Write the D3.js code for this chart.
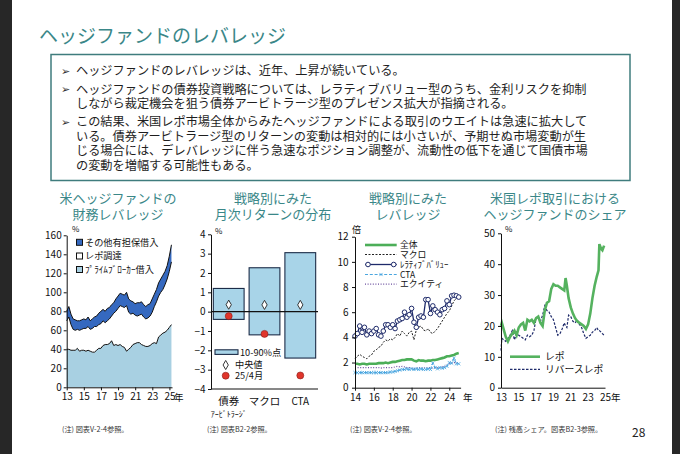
<!DOCTYPE html>
<html>
<head>
<meta charset="utf-8">
<script src="https://cdn.jsdelivr.net/npm/d3@7"></script>
<style>
body{margin:0;background:#fff;}
svg{display:block;}
text{font-family:"Noto Sans CJK JP","Noto Sans",sans-serif;}
</style>
</head>
<body>
<svg id="slide" width="680" height="454"></svg>
<script>
// ---- slide text ----
var slideTitle = "ヘッジファンドのレバレッジ";
var bulletLines = [
  ["ヘッジファンドのレバレッジは、近年、上昇が続いている。"],
  ["ヘッジファンドの債券投資戦略については、レラティブバリュー型のうち、金利リスクを抑制",
   "しながら裁定機会を狙う債券アービトラージ型のプレゼンス拡大が指摘される。"],
  ["この結果、米国レポ市場全体からみたヘッジファンドによる取引のウエイトは急速に拡大して",
   "いる。債券アービトラージ型のリターンの変動は相対的には小さいが、予期せぬ市場変動が生",
   "じる場合には、デレバレッジに伴う急速なポジション調整が、流動性の低下を通じて国債市場",
   "の変動を増幅する可能性もある。"]
];
var chartTitles = [
  ["米ヘッジファンドの", "財務レバレッジ"],
  ["戦略別にみた", "月次リターンの分布"],
  ["戦略別にみた", "レバレッジ"],
  ["米国レポ取引における", "ヘッジファンドのシェア"]
];
var footnotes = ["(注) 図表V-2-4参照。", "(注) 図表B2-2参照。", "(注) 図表V-2-4参照。", "(注) 残高シェア。図表B2-3参照。"];

// ---- chart 1: financial leverage (%), quarterly from 2013 ----
var finYears = d3.range(50).map(function(i){ return 2013 + i / 4; });
var primeBroker = [40,40,39,39, 39,41,38,39, 39,38,39,38, 37,37,39,41, 41,44,45,45, 46,49,44,45,
                   44,45,43,42, 38,40,42,45, 46,47,47,45, 44,43,43,44, 46,47,46,53, 55,57,58,60, 63,66];
var repoFunding = [30,34,27,22, 21,20,22,22, 23,24,25,23, 25,27,25,25, 26,26,23,25, 26,26,34,35,
                   39,41,42,42, 48,39,35,33, 30,28,29,32, 30,29,30,31, 33,38,44,43, 45,46,50,54, 59,66];
var otherSecured = [10,11,11,11, 11,9,10,10, 10,9,10,9, 10,10,11,12, 13,12,12,13, 12,12,11,13,
                    13,13,13,13, 14,14,14,12, 12,14,13,13, 13,13,14,13, 14,13,13,14, 14,15,14,14, 16,18];
var finKeys = ["prime", "repo", "other"];
var finLegend = ["その他有担保借入", "レポ調達", "ﾌﾟﾗｲﾑﾌﾞﾛｰｶｰ借入"];
var finYTicks = [0,20,40,60,80,100,120,140,160];
var finXTicks = [2013,2015,2017,2019,2021,2023,2025];

// ---- chart 2: monthly return distribution (%) ----
var strategies = ["債券", "マクロ", "CTA"];
var pct10 = [-0.4, -1.2, -2.4];
var pct90 = [1.2, 2.27, 3.05];
var medians = [0.36, 0.35, 0.35];
var apr25 = [-0.23, -1.15, -3.3];
var retYTicks = [-4,-3,-2,-1,0,1,2,3,4];
var retLegend = ["10-90%点", "中央値", "25/4月"];

// ---- chart 3: leverage by strategy (times), quarterly from 2014 ----
var stratYears = d3.range(45).map(function(i){ return 2014 + i / 4; });
var levOverall = [1.9,1.9,1.85,1.9, 1.9,1.85,1.9,1.9, 1.9,1.9,1.95,1.95, 1.95,2.0,1.95,2.0, 2.05,2.05,2.1,2.15,
                  2.2,2.2,2.25,2.25, 2.25,2.15,2.1,2.2, 2.15,2.15,2.1,2.15, 2.15,2.2,2.2,2.25, 2.3,2.35,2.4,2.5,
                  2.5,2.55,2.6,2.7, 2.75];
var levMacro = [2.3,2.5,2.65,2.5, 2.4,2.3,2.5,2.6, 2.9,3.0,3.2,3.3, 3.6,3.8,3.7,3.9, 3.8,4.0,4.3,4.1,
                4.5,4.3,4.1,4.4, 4.5,3.8,4.6,4.8, 4.9,4.6,4.5,4.7, 4.4,4.3,4.5,4.7, 5.0,5.3,5.6,5.9,
                6.1,6.5,6.9,7.1, 7.3];
var levRelVal = [4.1,4.3,4.9,4.4, 4.8,4.2,4.5,4.3, 4.5,4.7,4.2,4.1, 4.5,5.0,5.0,4.8, 5.0,4.7,5.3,5.4,
                 5.5,6.0,5.6,5.8, 6.3,5.2,4.8,5.6, 5.7,5.6,7.0,7.0, 5.9,6.5,6.2,6.0, 5.8,6.2,6.3,6.9,
                 6.6,7.3,7.35,7.3, 7.2];
var levCTA = [1.2,1.2,1.2,1.2, 1.2,1.2,1.2,1.2, 1.2,1.2,1.2,1.2, 1.2,1.2,1.2,1.25, 1.25,1.3,1.35,1.4,
              1.45,1.45,1.5,1.45, 1.5,1.45,1.5,1.45, 1.5,1.45,1.45,1.5, 1.45,1.95,1.6,1.5, 1.6,1.55,1.6,1.7,
              2.0,1.95,2.35,1.9, 1.9];
var levEquity = [1.6,1.6,1.6,1.6, 1.6,1.6,1.6,1.6, 1.6,1.6,1.6,1.55, 1.6,1.6,1.6,1.6, 1.6,1.65,1.7,1.65,
                 1.7,1.65,1.6,1.6, 1.55,1.5,1.55,1.6, 1.55,1.6,1.55,1.6, 1.6,1.55,1.6,1.6, 1.6,1.65,1.7,1.8,
                 1.9,1.95,2.0,2.0, 2.0];
var levLegend = ["全体", "マクロ", "ﾚﾗﾃｨﾌﾞﾊﾞﾘｭｰ", "CTA", "エクイティ"];
var levYTicks = [0,2,4,6,8,10,12];
var levXTicks = [2014,2016,2018,2020,2022,2024];

// ---- chart 4: hedge fund share of US repo (%) ----
var shareYears = [2013.0,2013.1,2013.3,2013.55,2013.8, 2014.05,2014.3,2014.55,2014.8, 2015.05,2015.3,2015.55,2015.8,
                  2016.05,2016.3,2016.55,2016.8, 2017.05,2017.3,2017.55,2017.8, 2018.05,2018.3,2018.55,2018.8,
                  2019.05,2019.3,2019.55,2019.8, 2020.05,2020.3,2020.45,2020.6,2020.8, 2021.05,2021.3,2021.55,2021.8,
                  2022.05,2022.3,2022.55,2022.8, 2023.05,2023.3,2023.55,2023.8, 2024.05,2024.25,2024.35,2024.55,2024.7,2024.9];
var shareRepo = [20,21,19,16.5,15, 16.5,17.5,18.5,17, 19.5,20.5,21,18.5, 22,21.5,22,21, 22.5,23,21,20, 25,27.5,28,32,
                 33.5,33,33,32.5, 32,31.5,35.5,33,29, 26,24,22.5,21.5, 21,20.5,20,19, 20.5,24,29,33, 36,38,46.5,45,44.5,46];
var shareReverse = [12,16,15.5,15,16, 17,18.5,15.5,17.5, 17,16.5,16,15.5, 17,16.5,17,18.5, 22.5,23,21.5,23.5, 26.5,25,24.5,23,
                    22,19.5,17,17.5, 19,21,20,19.5,23.5, 23,21.5,21,22, 20.5,19.5,17.5,16, 16.5,17,18,18.5, 19.5,18.5,18.5,18,17.5,17];
var shareLegend = ["レポ", "リバースレポ"];
var shareYTicks = [0,10,20,30,40,50];
var shareXTicks = [2013,2015,2017,2019,2021,2023,2025];

var teal = "#3a8788";
var numFont = "'Liberation Sans', Arial, sans-serif";
var svg = d3.select("#slide");

svg.append("rect").attr("width", 680).attr("height", 454).attr("fill", "#fff");
svg.append("rect").attr("x", 0).attr("width", 12).attr("height", 454).attr("fill", "#272727");
svg.append("rect").attr("x", 672).attr("width", 8).attr("height", 454).attr("fill", "#272727");

svg.append("text").attr("x", 39).attr("y", 43).attr("font-size", 19).attr("fill", teal).text(slideTitle);

svg.append("rect").attr("x", 51).attr("y", 54.5).attr("width", 579).attr("height", 126)
  .attr("fill", "none").attr("stroke", "#3f7c7d").attr("stroke-width", 1.5);

var lineY = 75;
bulletLines.forEach(function(par, p) {
  svg.append("text").attr("x", 60.5).attr("y", lineY - 0.5).attr("font-size", 10.5)
    .attr("font-family", "'DejaVu Sans'").attr("fill", "#333").text("➢");
  par.forEach(function(s, k) {
    svg.append("text").attr("x", 76).attr("y", lineY).attr("font-size", 12.2).attr("fill", "#1e1e1e").text(s);
    lineY += (k < par.length - 1) ? 14.4 : 18.5;
  });
});

var titleX = [118, 273, 408, 555];
chartTitles.forEach(function(t, i) {
  t.forEach(function(s, k) {
    svg.append("text").attr("x", titleX[i]).attr("y", 203 + k * 15.5).attr("text-anchor", "middle")
      .attr("font-size", 13).attr("fill", teal).text(s);
  });
});

var noteX = [62, 207, 350, 495];
footnotes.forEach(function(s, i) {
  svg.append("text").attr("x", noteX[i]).attr("y", 432).attr("font-size", 7.2).attr("fill", "#333").text(s);
});
svg.append("text").attr("x", 632).attr("y", 437).attr("font-size", 12).attr("font-family", "'Liberation Sans Narrow', " + numFont)
  .attr("fill", "#222").text("28");

function styleAxis(g) {
  g.attr("font-family", numFont).attr("font-size", 10);
  g.selectAll("path.domain").attr("stroke", "#111").attr("stroke-width", 1);
  g.selectAll(".tick line").attr("stroke", "#111");
  g.selectAll(".tick text").attr("fill", "#111");
}
function yrFmt(d) { return String(d % 100); }

// ================= chart 1 =================
var x1 = d3.scaleLinear().domain([2013, 2025]).range([66.7, 169.3]);
var y1 = d3.scaleLinear().domain([0, 160]).range([387.3, 235.3]);
var finRows = finYears.map(function(t, i) {
  return {t: t, prime: primeBroker[i], repo: repoFunding[i], other: otherSecured[i]};
});
var layers = d3.stack().keys(finKeys)(finRows);
var finFill = ["#a8d0e2", "#ffffff", "#3569c0"];
var area1 = d3.area().x(function(d){ return x1(d.data.t); })
  .y0(function(d){ return y1(d[0]); }).y1(function(d){ return y1(d[1]); });
var edge1 = d3.line().x(function(d){ return x1(d.data.t); }).y(function(d){ return y1(d[1]); });
var g1 = svg.append("g");
g1.selectAll("path.layer").data(layers).enter().append("path").attr("class", "layer")
  .attr("d", area1).attr("fill", function(d, i){ return finFill[i]; });
layers.forEach(function(l) {
  g1.append("path").attr("d", edge1(l)).attr("fill", "none").attr("stroke", "#111").attr("stroke-width", 1);
});
g1.append("g").attr("transform", "translate(66.7,0)")
  .call(d3.axisLeft(y1).tickValues(finYTicks).tickSize(3).tickSizeOuter(0).tickPadding(2)).call(styleAxis);
g1.append("g").attr("transform", "translate(0,387.3)")
  .call(d3.axisBottom(x1.copy().domain([2013, 2025.3]).range([66.7, 172])).tickValues(finXTicks).tickFormat(yrFmt)
  .tickSize(3).tickSizeOuter(0).tickPadding(3)).call(styleAxis);
g1.append("text").attr("x", 72).attr("y", 232).attr("font-size", 8).attr("fill", "#111").text("%");
g1.append("text").attr("x", 174).attr("y", 401).attr("font-size", 9.5).attr("fill", "#111").text("年");
var finLegFill = [finFill[2], finFill[1], finFill[0]];
finLegend.forEach(function(s, i) {
  var yy = [242.3, 256, 269.5][i];
  g1.append("rect").attr("x", 76.5).attr("y", yy - 3).attr("width", 6).attr("height", 6)
    .attr("fill", finLegFill[i]).attr("stroke", "#111").attr("stroke-width", 1);
  g1.append("text").attr("x", 85).attr("y", yy + 3.3).attr("font-size", 9.2).attr("fill", "#111").text(s);
});

// ================= chart 2 =================
var x2 = d3.scaleBand().domain(strategies).range([211, 318]).paddingInner(0.14).paddingOuter(0.065);
var y2 = d3.scaleLinear().domain([-4, 4]).range([389, 234.3]);
var g2 = svg.append("g");
g2.selectAll("rect.bar").data(strategies).enter().append("rect").attr("class", "bar")
  .attr("x", function(d){ return x2(d); }).attr("width", x2.bandwidth())
  .attr("y", function(d, i){ return y2(pct90[i]); })
  .attr("height", function(d, i){ return y2(pct10[i]) - y2(pct90[i]); })
  .attr("fill", "#a8d4e8").attr("stroke", "#1c2c48").attr("stroke-width", 1.1);
g2.append("line").attr("x1", 211).attr("x2", 318).attr("y1", y2(0)).attr("y2", y2(0))
  .attr("stroke", "#111").attr("stroke-width", 1.2);
var diamond = d3.symbol().type(d3.symbolDiamond).size(24);
g2.selectAll("path.med").data(strategies).enter().append("path").attr("class", "med")
  .attr("d", diamond)
  .attr("transform", function(d, i){ return "translate(" + (x2(d) + x2.bandwidth() / 2) + "," + y2(medians[i]) + ")"; })
  .attr("fill", "#fff").attr("stroke", "#222").attr("stroke-width", 0.9);
g2.selectAll("circle.apr").data(strategies).enter().append("circle").attr("class", "apr")
  .attr("cx", function(d){ return x2(d) + x2.bandwidth() / 2; })
  .attr("cy", function(d, i){ return y2(apr25[i]); }).attr("r", 3.5)
  .attr("fill", "#e0352b").attr("stroke", "#8a1d17").attr("stroke-width", 0.6);
g2.append("g").attr("transform", "translate(211,0)")
  .call(d3.axisLeft(y2).tickValues(retYTicks).tickSize(3).tickSizeOuter(0).tickPadding(2.5)).call(styleAxis);
g2.append("line").attr("x1", 211).attr("x2", 318).attr("y1", 389).attr("y2", 389).attr("stroke", "#111");
strategies.forEach(function(s, i) {
  g2.append("text").attr("x", x2(s) + x2.bandwidth() / 2).attr("y", 405).attr("text-anchor", "middle")
    .attr("font-size", i == 2 ? 10 : 10.5).attr("font-family", i == 2 ? numFont : null).attr("fill", "#111").text(s);
});
g2.append("text").attr("x", x2(strategies[0]) + x2.bandwidth() / 2).attr("y", 417).attr("text-anchor", "middle")
  .attr("font-size", 8).attr("fill", "#111").text("ｱｰﾋﾞﾄﾗｰｼﾞ");
g2.append("text").attr("x", 215).attr("y", 234).attr("font-size", 8).attr("fill", "#111").text("%");
g2.append("rect").attr("x", 215).attr("y", 349.8).attr("width", 23).attr("height", 4.6)
  .attr("fill", "#a8d4e8").attr("stroke", "#1c2c48").attr("stroke-width", 1.1);
g2.append("text").attr("x", 240).attr("y", 355.5).attr("font-size", 9.2).attr("fill", "#111").text(retLegend[0]);
g2.append("path").attr("d", diamond).attr("transform", "translate(225.7,365)")
  .attr("fill", "#fff").attr("stroke", "#222").attr("stroke-width", 0.9);
g2.append("text").attr("x", 235).attr("y", 368.3).attr("font-size", 9.2).attr("fill", "#111").text(retLegend[1]);
g2.append("circle").attr("cx", 225.7).attr("cy", 375.7).attr("r", 3.5)
  .attr("fill", "#e0352b").attr("stroke", "#8a1d17").attr("stroke-width", 0.6);
g2.append("text").attr("x", 235).attr("y", 379).attr("font-size", 9.2).attr("fill", "#111").text(retLegend[2]);

// ================= chart 3 =================
var x3 = d3.scaleLinear().domain([2014, 2024]).range([355, 449.3]);
var y3 = d3.scaleLinear().domain([0, 12]).range([387.7, 236.7]);
var g3 = svg.append("g");
var levSeries = [
  {vals: levEquity,  color: "#6b4f9e", width: 1.2, dash: "1,1.6"},
  {vals: levCTA,     color: "#4aa6df", width: 1.1, dash: "3,1.8"},
  {vals: levMacro,   color: "#222",    width: 1,   dash: "2,1.5"},
  {vals: levOverall, color: "#4cae58", width: 2.6, dash: null},
  {vals: levRelVal,  color: "#1e2a6a", width: 1.3, dash: null}
];
var line3 = function(vals) {
  return d3.line().x(function(d, i){ return x3(stratYears[i]); }).y(function(d){ return y3(d); })(vals);
};
levSeries.forEach(function(s) {
  g3.append("path").attr("d", line3(s.vals)).attr("fill", "none").attr("stroke", s.color)
    .attr("stroke-width", s.width).attr("stroke-dasharray", s.dash);
});
g3.selectAll("path.xm").data(levCTA).enter().append("path").attr("class", "xm")
  .attr("d", d3.symbol().type(d3.symbolX).size(8))
  .attr("transform", function(d, i){ return "translate(" + x3(stratYears[i]) + "," + y3(d) + ")"; })
  .attr("stroke", "#4aa6df").attr("stroke-width", 0.8).attr("fill", "none");
g3.selectAll("circle.rv").data(levRelVal).enter().append("circle").attr("class", "rv")
  .attr("cx", function(d, i){ return x3(stratYears[i]); }).attr("cy", function(d){ return y3(d); })
  .attr("r", 2.3).attr("fill", "#fff").attr("stroke", "#1e2a6a").attr("stroke-width", 1);
g3.append("g").attr("transform", "translate(355,0)")
  .call(d3.axisLeft(y3).tickValues(levYTicks).tickSize(3).tickSizeOuter(0).tickPadding(3.5)).call(styleAxis);
g3.append("g").attr("transform", "translate(0,387.7)")
  .call(d3.axisBottom(x3.copy().domain([2014, 2025.2]).range([355, 460.6])).tickValues(levXTicks).tickFormat(yrFmt)
  .tickSize(3).tickSizeOuter(0).tickPadding(3)).call(styleAxis);
g3.append("text").attr("x", 352).attr("y", 233).attr("font-size", 9).attr("fill", "#111").text("倍");
g3.append("text").attr("x", 463).attr("y", 401).attr("font-size", 9.5).attr("fill", "#111").text("年");
var levLegStyle = [levSeries[3], levSeries[2], levSeries[4], levSeries[1], levSeries[0]];
levLegend.forEach(function(s, i) {
  var yy = [245, 254.5, 264.5, 274.5, 284.2][i];
  var st = levLegStyle[i];
  g3.append("line").attr("x1", 365).attr("x2", 396.7).attr("y1", yy).attr("y2", yy)
    .attr("stroke", st.color).attr("stroke-width", st.width).attr("stroke-dasharray", st.dash);
  if (i == 2) {
    [368, 393.7].forEach(function(cx) {
      g3.append("circle").attr("cx", cx).attr("cy", yy).attr("r", 2.3)
        .attr("fill", "#fff").attr("stroke", "#1e2a6a").attr("stroke-width", 1);
    });
  }
  if (i == 3) {
    g3.append("path").attr("d", d3.symbol().type(d3.symbolX).size(8)).attr("transform", "translate(381," + yy + ")")
      .attr("stroke", "#4aa6df").attr("stroke-width", 0.8);
  }
  g3.append("text").attr("x", 400).attr("y", yy + 3).attr("font-size", i == 3 ? 8.5 : 8.8)
    .attr("font-family", i == 3 ? numFont : null).attr("fill", "#111").text(s);
});

// ================= chart 4 =================
var x4 = d3.scaleLinear().domain([2013, 2025]).range([501, 605]);
var y4 = d3.scaleLinear().domain([0, 50]).range([387.7, 233.3]);
var g4 = svg.append("g");
var line4 = function(vals) {
  return d3.line().x(function(d, i){ return x4(shareYears[i]); }).y(function(d){ return y4(d); })(vals);
};
g4.append("path").attr("d", line4(shareReverse)).attr("fill", "none").attr("stroke", "#1e2a6a")
  .attr("stroke-width", 1.2).attr("stroke-dasharray", "2.5,1.5");
g4.append("path").attr("d", line4(shareRepo)).attr("fill", "none").attr("stroke", "#55b25f")
  .attr("stroke-width", 2.6);
g4.append("g").attr("transform", "translate(501,0)")
  .call(d3.axisLeft(y4).tickValues(shareYTicks).tickSize(3).tickSizeOuter(0).tickPadding(3)).call(styleAxis);
g4.append("g").attr("transform", "translate(0,387.7)")
  .call(d3.axisBottom(x4).tickValues(shareXTicks).tickFormat(yrFmt)
  .tickSize(0).tickSizeOuter(0).tickPadding(6)).call(styleAxis);
g4.append("text").attr("x", 505).attr("y", 232).attr("font-size", 8).attr("fill", "#111").text("%");
g4.append("text").attr("x", 611).attr("y", 401).attr("font-size", 9.5).attr("fill", "#111").text("年");
g4.append("line").attr("x1", 510).attr("x2", 540).attr("y1", 356.7).attr("y2", 356.7)
  .attr("stroke", "#55b25f").attr("stroke-width", 2.6);
g4.append("line").attr("x1", 510).attr("x2", 540).attr("y1", 369.3).attr("y2", 369.3)
  .attr("stroke", "#1e2a6a").attr("stroke-width", 1.2).attr("stroke-dasharray", "2.5,1.5");
shareLegend.forEach(function(s, i) {
  g4.append("text").attr("x", 545).attr("y", [360.3, 372.8][i]).attr("font-size", 9.8).attr("fill", "#111").text(s);
});
</script>
</body>
</html>
